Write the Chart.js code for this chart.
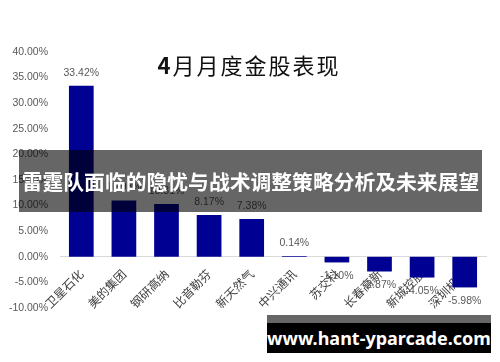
<!DOCTYPE html>
<html>
<head>
<meta charset="utf-8">
<script src="https://cdn.jsdelivr.net/npm/chart.js@4.4.0/dist/chart.umd.min.js"></script>
<style>
  body { margin:0; background:#fff; }
  #wrap { position:relative; width:500px; height:362px; overflow:hidden; font-family:"Noto Sans CJK SC","Noto Sans",sans-serif; }
  #title { position:absolute; left:0; width:498px; top:49px; text-align:center; font-size:22px; letter-spacing:2px; color:#111; line-height:30px; }
  #title b { font-weight:700; }
  #banner { position:absolute; left:19px; top:150px; width:463px; height:62px; background:rgba(0,0,0,0.6); color:#fff; font-weight:700; font-size:20.8px; line-height:62px; text-align:center; white-space:nowrap; }
  #wm1 { position:absolute; left:267px; top:315px; width:224px; height:8px; background:rgba(0,0,0,0.6); }
  #wm2 { position:absolute; left:267px; top:323px; width:224px; height:30px; background:#000; color:#fff; font-family:"Noto Sans",sans-serif; font-weight:700; font-size:18px; line-height:30px; text-align:center; }
</style>
</head>
<body>
<div id="wrap">
  <canvas id="myChart" width="500" height="362"></canvas>
  <div id="title"><b>4</b>月月度金股表现</div>
  <div id="banner">雷霆队面临的隐忧与战术调整策略分析及未来展望</div>
  <div id="wm1"></div>
  <div id="wm2">www.hant-yparcade.com</div>
</div>
<script>
// data
var stocks = ['卫星石化','美的集团','钢研高纳','比音勒芬','新天然气','中兴通讯','苏交科','长春高新','新城控股','深圳机场'];
var returns = [33.42, 10.98, 10.31, 8.17, 7.38, 0.14, -1.10, -2.87, -4.05, -5.98];
var yTicks = [-10, -5, 0, 5, 10, 15, 20, 25, 30, 35, 40];

// value labels over / under bars
var barLabels = {
  id: 'barLabels',
  afterDatasetsDraw: function(chart){
    var ctx = chart.ctx;
    var meta = chart.getDatasetMeta(0);
    ctx.save();
    ctx.font = '10.5px "Liberation Sans", sans-serif';
    ctx.fillStyle = '#595959';
    ctx.textAlign = 'center';
    ctx.textBaseline = 'middle';
    meta.data.forEach(function(bar, i){
      var v = returns[i];
      var y = v >= 0 ? bar.y - 13 : bar.y + 14;
      ctx.fillText(v.toFixed(2) + '%', bar.x, y);
    });
    ctx.restore();
  }
};

var ctx = document.getElementById('myChart');
var chart = new Chart(ctx, {
  type: 'bar',
  data: {
    labels: stocks,
    datasets: [{
      data: returns,
      backgroundColor: '#000093',
      borderWidth: 0,
      barPercentage: 0.58,
      categoryPercentage: 1
    }]
  },
  options: {
    responsive: false,
    animation: false,
    layout: { padding: { top: 52, bottom: 54, left: 0, right: 14 } },
    plugins: { legend: { display: false }, tooltip: { enabled: false }, title: { display: false } },
    scales: {
      x: {
        position: { y: 0 },
        grid: { display: false },
        border: { display: true, color: '#d9d9d9', width: 1 },
        ticks: {
          minRotation: 45, maxRotation: 45, padding: 2,
          color: '#404040',
          font: { family: '"Noto Sans CJK SC"', size: 12 }
        }
      },
      y: {
        min: -10, max: 40,
        afterFit: function(s){ s.width = 60; },
        afterBuildTicks: function(s){ s.ticks = yTicks.map(function(v){ return { value: v }; }); },
        grid: { display: false },
        border: { display: false },
        ticks: {
          padding: 4,
          color: '#595959',
          font: { family: '"Liberation Sans"', size: 10.5 },
          callback: function(v){ return v.toFixed(2) + '%'; }
        }
      }
    }
  },
  plugins: [barLabels]
});
</script>
</body>
</html>
